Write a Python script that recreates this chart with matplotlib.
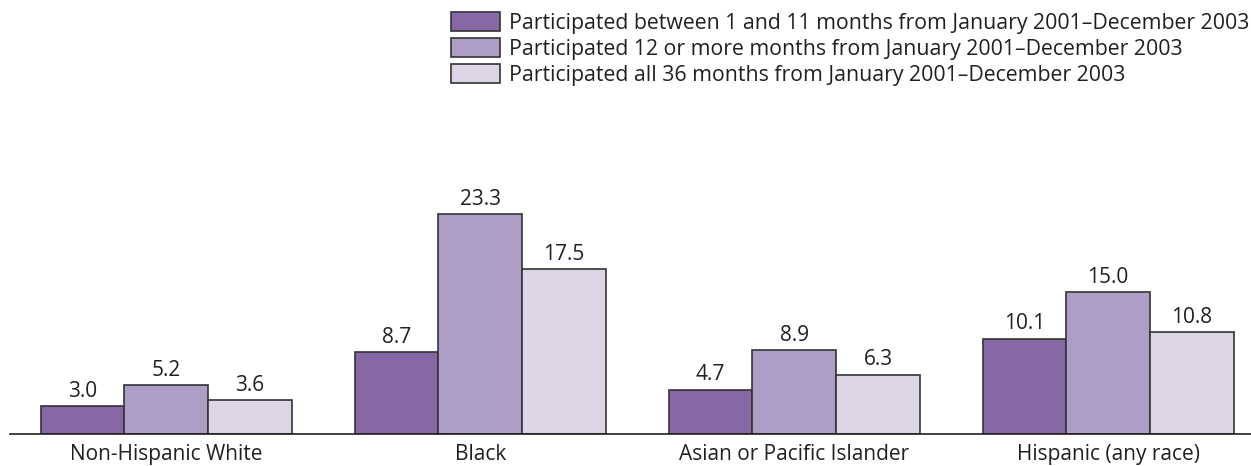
import matplotlib
matplotlib.use('Agg')
import matplotlib.pyplot as plt
import numpy as np

plt.rcParams['font.family'] = ['Open Sans', 'DejaVu Sans']

CATEGORIES = ['Non-Hispanic White', 'Black', 'Asian or Pacific Islander',
              'Hispanic (any race)']
SERIES = ['Participated between 1 and 11 months from January 2001\u2013December 2003',
          'Participated 12 or more months from January 2001\u2013December 2003',
          'Participated all 36 months from January 2001\u2013December 2003']
ONE_TO_11 = [3.0, 8.7, 4.7, 10.1]
TWELVE_PLUS = [5.2, 23.3, 8.9, 15.0]
ALL_36 = [3.6, 17.5, 6.3, 10.8]
COLORS = ['#8568a4', '#ae9dc7', '#dcd5e6']
TEXT = '#231f20'

W, H = 1251, 466
fig = plt.figure(figsize=(W / 100, H / 100), dpi=100)
ax = fig.add_axes([10 / W, 32 / H, 1 - 10 / W, 283.2 / H])

x = np.arange(len(CATEGORIES))
width = 0.2667
for i, (vals, col, lab) in enumerate(zip([ONE_TO_11, TWELVE_PLUS, ALL_36], COLORS, SERIES)):
    bars = ax.bar(x + (i - 1) * width, vals, width, color=col, edgecolor='#333333',
                  linewidth=1.2, label=lab)
    ax.bar_label(bars, fmt='%.1f', padding=3, fontsize=15, color=TEXT)

ax.set_xlim(-0.498, 3.455)
ax.set_ylim(0, 30)
ax.set_xticks(x)
ax.set_xticklabels(CATEGORIES, fontsize=15, color=TEXT)
ax.tick_params(axis='x', length=0, pad=7)
ax.set_yticks([])
for s in ['top', 'right', 'left']:
    ax.spines[s].set_visible(False)
ax.spines['bottom'].set_color(TEXT)
ax.spines['bottom'].set_linewidth(1.2)

leg = fig.legend(loc='upper left', bbox_to_anchor=(451 / W, 1 - 12 / H), frameon=False,
                 fontsize=15.3, handlelength=2.3, handleheight=1.0, handletextpad=0.42,
                 labelspacing=0.2, borderpad=0, borderaxespad=0)
for t in leg.get_texts():
    t.set_color(TEXT)

fig.savefig('out.png', dpi=100)
